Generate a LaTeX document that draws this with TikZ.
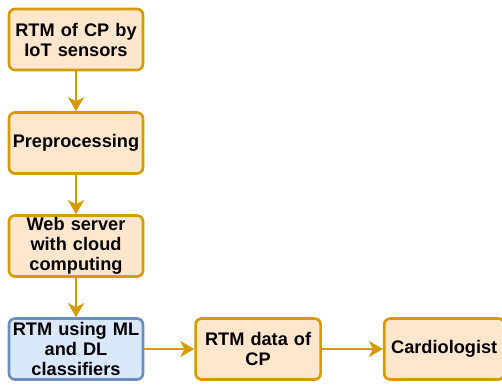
\documentclass[tikz,border=0pt]{standalone}
\usepackage{fontspec}
\setmainfont{Liberation Sans}
\usepackage{tikz}
\usetikzlibrary{arrows.meta,positioning}
\usepackage{xcolor}
\definecolor{boxorange}{HTML}{FFE6CC}
\definecolor{lineorange}{HTML}{D79B00}
\definecolor{boxblue}{HTML}{DAE8FC}
\definecolor{lineblue}{HTML}{6C8EBF}

\begin{document}
\begin{tikzpicture}[
    x=1pt,y=1pt,
    >={Stealth[length=14pt,width=16pt,inset=4pt]},
    every node/.style={font=\fontsize{18.2}{20}\selectfont\bfseries,align=center},
    stage/.style={draw=lineorange,fill=boxorange,line width=2.6pt,rounded corners=6pt,
      minimum width=134pt,minimum height=61pt,text width=130pt,inner sep=0pt},
    bluestage/.style={stage,draw=lineblue,fill=boxblue},
    flow/.style={->,draw=lineorange,line width=2.6pt}
  ]
  \useasboundingbox (0,0) rectangle (502,-385);
  \node[stage] (sense) at (76,-39.5) {RTM of CP by\\IoT sensors};
  \node[stage] (prep) at (76,-143) {Preprocessing};
  \node[stage] (web) at (76,-246) {Web server\\with cloud\\computing};
  \node[bluestage] (rtm) at (76,-349) {RTM using ML\\and DL\\classifiers};
  \node[stage,minimum width=125pt,text width=123pt] (data) [right=50pt of rtm] {RTM data of\\CP};
  \node[stage,minimum width=120pt,text width=118pt] (card) [right=61pt of data] {Cardiologist};
  \draw[flow] (sense) -- (prep);
  \draw[flow] (prep) -- (web);
  \draw[flow] (web) -- (rtm);
  \draw[flow] (rtm) -- (data);
  \draw[flow] (data) -- (card);
\end{tikzpicture}
\end{document}
